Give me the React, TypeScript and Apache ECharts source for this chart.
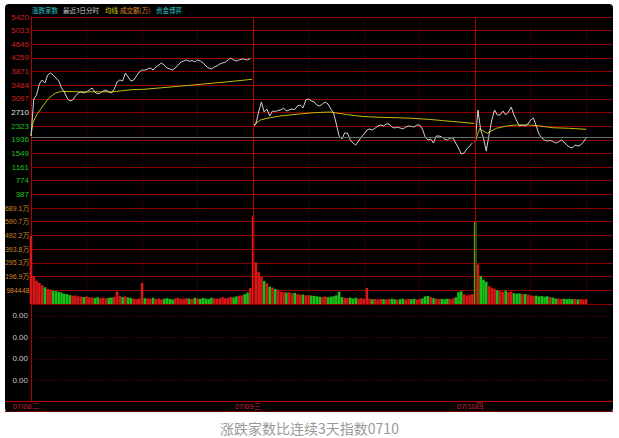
import React, { useEffect, useRef } from "react";
import * as echarts from "echarts";

// ---- data ----
const dayLabels = ["07/08二", "07/09三", "07/10四"];
const minutesPerDay = 240;
const stepMinutes = 3;
const ratioMax = 5420;
const ratioTickCount = 14;
const volStep = 98.4448; // 万
const volTickCount = 7;
const baseLevel = 2020;

// 涨跌家数 (white line), one point per 3 minutes
const ratioDay1 = [
  2043, 3093, 3206, 3519, 3632, 3547, 3774, 3831, 3774, 3689,
  3604, 3405, 3292, 3121, 3036, 3065, 3178, 3263, 3292, 3263,
  3292, 3348, 3405, 3292, 3235, 3263, 3320, 3348, 3292, 3263,
  3377, 3575, 3632, 3604, 3831, 3717, 3604, 3632, 3746, 3859,
  3916, 3910, 3944, 3973, 3916, 4001, 4058, 4115, 4058, 3973,
  3944, 3916, 3973, 4058, 4143, 4171, 4200, 4160, 4185, 4150,
  4200, 4171, 4115, 4029, 3973, 3944, 4001, 4029, 4086, 4115,
  4143, 4200, 4256, 4200, 4171, 4200, 4228, 4215, 4200, 4240,
];
const ratioDay2 = [
  2355, 2383, 2724, 3008, 2724, 2809, 2610, 2752, 2740, 2766,
  2781, 2837, 2752, 2781, 2809, 2795, 2894, 2923, 2837, 3065,
  3093, 3036, 3008, 2923, 2894, 2951, 3008, 2951, 2809, 2696,
  2383, 2043, 1958, 2128, 2128, 1929, 1844, 1787, 1901, 2014,
  2099, 2213, 2241, 2213, 2270, 2327, 2355, 2327, 2383, 2383,
  2298, 2270, 2298, 2270, 2241, 2298, 2327, 2315, 2298, 2355,
  2355, 2241, 2014, 1929, 1958, 1844, 2043, 2043, 2014, 1958,
  1929, 1986, 1986, 1844, 1702, 1532, 1560, 1674, 1759, 1844,
];
const ratioDay3 = [
  1844, 2781, 2213, 1986, 1617, 2071, 2497, 2781, 2639, 2639,
  2752, 2639, 2724, 2866, 2639, 2468, 2327, 2355, 2327, 2383,
  2497, 2554, 2327, 2099, 1986, 1929, 1901, 1915, 1890, 1844,
  1873, 1929, 1873, 1787, 1730, 1702, 1787, 1759, 1787, 1873,
  1986,
];

// 均线 (yellow line): [minute of the day, value]
const avgDay1 = [
  [0, 2043], [2, 2412], [6, 2639], [12, 2866], [19, 3113], [26, 3255],
  [33, 3311], [53, 3297], [75, 3297], [88, 3297], [110, 3360], [122, 3368],
  [147, 3425], [183, 3510], [210, 3575], [239, 3652],
];
const avgDay2 = [
  [0, 2298], [4, 2420], [8, 2497], [15, 2545], [29, 2610], [47, 2659],
  [65, 2704], [83, 2724], [101, 2653], [119, 2596], [137, 2573], [155, 2562],
  [173, 2545], [192, 2511], [216, 2454], [239, 2398],
];
const avgDay3 = [
  [0, 1853], [2, 2043], [5, 2261], [7, 2213], [13, 2119], [16, 2165],
  [23, 2261], [34, 2327], [45, 2355], [59, 2355], [70, 2327], [84, 2278],
  [102, 2261], [120, 2233],
];

// 成交额 (万), one bar per 3 minutes
const volDay1 = [
  489, 200, 168, 152, 135, 120, 108, 103, 96, 92,
  87, 82, 74, 70, 64, 60, 62, 55, 53, 50,
  55, 48, 46, 44, 48, 42, 45, 40, 44, 47,
  52, 90, 58, 50, 55, 46, 43, 38, 35, 40,
  150, 42, 40, 38, 44, 36, 40, 34, 38, 42,
  37, 33, 40, 45, 38, 35, 42, 39, 36, 44,
  40, 37, 43, 39, 35, 45, 40, 38, 42, 48,
  41, 44, 50, 47, 55, 60, 63, 70, 82, 115,
];
const volDay2 = [
  633, 300, 230, 195, 165, 150, 125, 118, 108, 102,
  90, 86, 82, 85, 78, 80, 70, 66, 68, 62,
  65, 60, 58, 55, 52, 50, 54, 48, 52, 56,
  62, 88, 50, 45, 42, 46, 40, 44, 38, 42,
  36, 115, 38, 34, 36, 33, 37, 35, 32, 36,
  38, 34, 31, 35, 38, 33, 36, 34, 37, 33,
  36, 40, 55, 58, 50, 42, 38, 35, 37, 34,
  38, 36, 40, 48, 85, 92, 70, 62, 66, 72,
];
const volDay3 = [
  590, 284, 200, 175, 160, 130, 118, 110, 98, 92,
  88, 94, 86, 90, 78, 74, 76, 70, 72, 68,
  62, 58, 60, 55, 57, 52, 56, 50, 46, 40,
  38, 36, 39, 35, 37, 34, 36, 33, 35, 32,
  34,
];
const openBarUp = [true, true, false];

const headerItems = [
  { text: "涨跌家数", color: "#2cc8c8" },
  { text: "最近3日分时", color: "#c8c8c8" },
  { text: "均线", color: "#d6d400" },
  { text: "成交额(万)", color: "#e08c2a" },
  { text: "资金博弈", color: "#2cc8c8" },
];
const caption = "涨跌家数比连续3天指数0710";

// ---- styles ----
const FONT = 'Liberation Sans, Arial, "Noto Sans CJK SC", sans-serif';
const CJK = '"Noto Sans CJK SC", sans-serif';
const GRID_RED = "#8e0000";
const DAY_RED = "#b40000";
const DOT_RED = "#6a0000";
const UP = "#d81818";
const DOWN = "#18c018";

function buildOption() {
  const days = [ratioDay1, ratioDay2, ratioDay3];
  const avgs = [avgDay1, avgDay2, avgDay3];
  const vols = [volDay1, volDay2, volDay3];
  const xMax = 629;
  const boundaries = [minutesPerDay, minutesPerDay * 2];

  const dayLines = boundaries.map((b) => ({
    xAxis: b,
    lineStyle: { color: DAY_RED, type: "solid", width: 1 },
  }));

  const series: any[] = [];
  days.forEach((arr, d) => {
    series.push({
      type: "line",
      xAxisIndex: 0,
      yAxisIndex: 0,
      symbol: "none",
      silent: true,
      z: 4,
      lineStyle: { color: "#d2d2d2", width: 1 },
      data: arr.map((v, i) => [d * minutesPerDay + i * stepMinutes, v]),
      markLine:
        d === 0
          ? {
              symbol: ["none", "none"],
              silent: true,
              label: { show: false },
              animation: false,
              data: [
                { yAxis: baseLevel, lineStyle: { color: "#6e6e6e", type: "solid", width: 1 } },
                ...dayLines,
              ],
            }
          : undefined,
    });
  });
  avgs.forEach((arr, d) => {
    series.push({
      type: "line",
      xAxisIndex: 0,
      yAxisIndex: 0,
      symbol: "none",
      silent: true,
      z: 3,
      lineStyle: { color: "#c4bc00", width: 1 },
      data: arr.map((p) => [d * minutesPerDay + p[0], p[1]]),
    });
  });

  const barData: any[] = [];
  vols.forEach((arr, d) => {
    const line = days[d];
    arr.forEach((v, i) => {
      const up = i === 0 ? openBarUp[d] : line[i] >= line[i - 1];
      barData.push({
        value: [d * minutesPerDay + i * stepMinutes, v],
        itemStyle: { color: up ? UP : DOWN },
      });
    });
  });
  series.push({
    type: "bar",
    xAxisIndex: 1,
    yAxisIndex: 1,
    barWidth: 2.6,
    silent: true,
    data: barData,
    markLine: {
      symbol: ["none", "none"],
      silent: true,
      label: { show: false },
      animation: false,
      data: dayLines,
    },
  });
  series.push({ type: "line", xAxisIndex: 2, yAxisIndex: 2, data: [], symbol: "none" });

  const xBase = (gridIndex: number) => ({
    type: "value",
    gridIndex,
    min: 0,
    max: xMax,
    interval: 60,
    axisLine: { show: false },
    axisTick: { show: false },
    axisLabel: { show: false },
    splitLine: {
      show: true,
      showMinLine: false,
      showMaxLine: false,
      lineStyle: { color: DOT_RED, type: [1, 2], width: 1 },
    },
  });

  const ratioStep = ratioMax / ratioTickCount;

  return {
    animation: false,
    backgroundColor: "transparent",
    textStyle: { fontFamily: FONT },
    grid: [
      { left: 31, top: 17, width: 582, height: 191 },
      { left: 31, top: 208, width: 582, height: 96 },
      { left: 31, top: 305, width: 582, height: 97 },
    ],
    xAxis: [
      xBase(0),
      xBase(1),
      {
        ...xBase(2),
        interval: minutesPerDay,
        splitLine: { show: false },
        axisLabel: {
          show: true,
          margin: 1,
          showMaxLabel: false,
          formatter: (v: number) => {
            const k = Math.round(v / minutesPerDay);
            const lab = dayLabels[k];
            return lab ? `{t|${lab}}{s| }` : "";
          },
          rich: {
            t: { color: "#c42438", fontSize: 7.5, fontFamily: FONT },
            s: { width: 10, fontSize: 7.5 },
          },
        },
      },
    ],
    yAxis: [
      {
        type: "value",
        gridIndex: 0,
        min: 0,
        max: ratioMax,
        interval: ratioStep,
        axisLine: { show: true, lineStyle: { color: DAY_RED, width: 1 } },
        axisTick: { show: false },
        axisLabel: {
          margin: 2,
          formatter: (v: number) => {
            const n = Math.round(v);
            if (n === 0) return "";
            const key = n > 2720 ? "r" : n > 2700 ? "w" : "g";
            return `{${key}|${n}}`;
          },
          rich: {
            r: { color: "#d42020", fontSize: 8, fontFamily: FONT },
            w: { color: "#e0e0e0", fontSize: 8, fontFamily: FONT },
            g: { color: "#22c022", fontSize: 8, fontFamily: FONT },
          },
        },
        splitLine: { show: true, lineStyle: { color: GRID_RED, width: 1, type: "solid" } },
      },
      {
        type: "value",
        gridIndex: 1,
        min: 0,
        max: volStep * volTickCount,
        interval: volStep,
        axisLine: { show: true, lineStyle: { color: DAY_RED, width: 1 } },
        axisTick: { show: false },
        axisLabel: {
          margin: 1.5,
          color: "#d0842c",
          fontSize: 7,
          fontFamily: FONT,
          formatter: (v: number) => {
            const k = Math.round(v / volStep);
            if (k === 0) return "";
            if (k === 1) return String(Math.round(volStep * 10000));
            return v.toFixed(1) + "万";
          },
        },
        splitLine: { show: true, lineStyle: { color: GRID_RED, width: 1, type: "solid" } },
      },
      {
        type: "value",
        gridIndex: 2,
        min: 0,
        max: 4.5,
        interval: 1,
        axisLine: { show: true, lineStyle: { color: DAY_RED, width: 1 } },
        axisTick: { show: false },
        axisLabel: {
          margin: 3,
          color: "#c8c8c8",
          fontSize: 8,
          fontFamily: FONT,
          formatter: (v: number) => (v > 0.5 && v < 4.2 ? "0.00" : ""),
        },
        splitLine: {
          show: true,
          showMinLine: false,
          showMaxLine: false,
          lineStyle: { color: DOT_RED, width: 1, type: [1, 2] },
        },
      },
    ],
    graphic: [
      {
        type: "line",
        z: 50,
        silent: true,
        shape: { x1: 5, y1: 401.5, x2: 613, y2: 401.5 },
        style: { stroke: DAY_RED, lineWidth: 1 },
      },
      {
        type: "line",
        z: 50,
        silent: true,
        shape: { x1: 5, y1: 411.5, x2: 613, y2: 411.5 },
        style: { stroke: "#6a0000", lineWidth: 1 },
      },
      ...(() => {
        const xs = [32, 63, 105, 120, 156];
        return headerItems.map((h, i) => ({
          type: "text",
          z: 60,
          silent: true,
          style: {
            text: h.text,
            x: xs[i],
            y: 10,
            fill: h.color,
            font: `6.5px ${CJK}`,
            textVerticalAlign: "middle",
          },
        }));
      })(),
      {
        type: "text",
        z: 60,
        silent: true,
        style: {
          text: caption,
          x: 309.5,
          y: 428,
          fill: "#999999",
          font: `14px ${CJK}`,
          textAlign: "center",
          textVerticalAlign: "middle",
        },
      },
    ],
    series,
  };
}

export default function App() {
  const ref = useRef<HTMLDivElement>(null);
  useEffect(() => {
    if (!ref.current) return;
    const chart = echarts.init(ref.current, null, { renderer: "svg" });
    chart.setOption(buildOption() as any);
    return () => chart.dispose();
  }, []);
  return (
    <div style={{ position: "absolute", left: 0, top: 0, width: 619, height: 438, background: "#fff" }}>
      <div
        style={{
          position: "absolute",
          left: 5,
          top: 4,
          width: 608,
          height: 408,
          background: "#000",
          borderRadius: 4,
        }}
      />
      <div ref={ref} style={{ position: "absolute", left: 0, top: 0, width: 619, height: 438 }} />
    </div>
  );
}
